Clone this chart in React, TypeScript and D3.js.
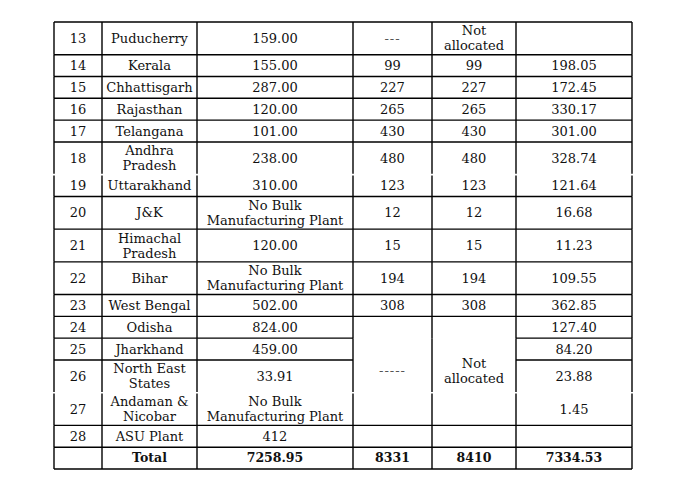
import React from "react";
import * as d3 from "d3";

// table contents, one array per column
const serials = ["13", "14", "15", "16", "17", "18", "19", "20", "21", "22", "23", "24", "25", "26", "27", "28", ""];
const states = [
  "Puducherry", "Kerala", "Chhattisgarh", "Rajasthan", "Telangana", "Andhra\nPradesh", "Uttarakhand",
  "J&K", "Himachal\nPradesh", "Bihar", "West Bengal", "Odisha", "Jharkhand", "North East\nStates",
  "Andaman &\nNicobar", "ASU Plant", "Total",
];
const capacity = [
  "159.00", "155.00", "287.00", "120.00", "101.00", "238.00", "310.00", "No Bulk\nManufacturing Plant",
  "120.00", "No Bulk\nManufacturing Plant", "502.00", "824.00", "459.00", "33.91",
  "No Bulk\nManufacturing Plant", "412", "7258.95",
];
const allocA = ["---", "99", "227", "265", "430", "480", "123", "12", "15", "194", "308", "-----", "", "", "", "", "8331"];
const allocB = ["Not\nallocated", "99", "227", "265", "430", "480", "123", "12", "15", "194", "308", "Not\nallocated", "", "", "", "", "8410"];
const supplied = [
  "", "198.05", "172.45", "330.17", "301.00", "328.74", "121.64", "16.68", "11.23", "109.55", "362.85",
  "127.40", "84.20", "23.88", "1.45", "", "7334.53",
];

const columns = [serials, states, capacity, allocA, allocB, supplied];
// cells spanning rows 24..27 in the two allocation columns
const merges = [
  { col: 3, from: 11, to: 14 },
  { col: 4, from: 11, to: 14 },
];
// rows whose bottom border is missing in the original
const openBelow = [5, 13];
const totalRow = serials.length - 1;

const colEdges = [54, 102, 197, 353, 432, 516, 632];
const top = 22;
const bottom = 469;
const lineH = 15;

export default function App() {
  const nRows = serials.length;
  const isMerged = (c: number, r: number) => merges.find((m) => m.col === c && r >= m.from && r <= m.to);

  const lines = d3.range(nRows).map((r) =>
    d3.max([...columns.map((col, c) => (isMerged(c, r) ? 1 : col[r].split("\n").length)), 1]) as number
  );
  const units = lines.map((l) => (l > 1 ? 3 : 2));
  const cum = [0, ...d3.cumsum(units)];
  const y = d3.scaleLinear().domain([0, cum[cum.length - 1]]).range([top, bottom]);
  const rowTop = (r: number) => y(cum[r]);
  const rowBot = (r: number) => y(cum[r + 1]);

  const hLines: JSX.Element[] = [];
  hLines.push(<line key="top" x1={colEdges[0]} x2={colEdges[6]} y1={top} y2={top} />);
  for (let r = 0; r < nRows; r++) {
    if (openBelow.includes(r)) continue;
    const yy = rowBot(r);
    for (let c = 0; c < 6; c++) {
      const m = isMerged(c, r);
      if (m && r < m.to) continue;
      hLines.push(<line key={`h${r}-${c}`} x1={colEdges[c]} x2={colEdges[c + 1]} y1={yy} y2={yy} />);
    }
  }

  const vLines: JSX.Element[] = [];
  colEdges.forEach((x, i) => {
    for (let r = 0; r < nRows; r++) {
      const gap = openBelow.includes(r) ? 0.8 : 0;
      const gapTop = r > 0 && openBelow.includes(r - 1) ? 0.8 : 0;
      vLines.push(
        <line key={`v${i}-${r}`} x1={x} x2={x} y1={rowTop(r) + gapTop} y2={rowBot(r) - gap} />
      );
    }
  });

  const cells: JSX.Element[] = [];
  columns.forEach((col, c) => {
    const cx = (colEdges[c] + colEdges[c + 1]) / 2;
    col.forEach((txt, r) => {
      if (!txt) return;
      const m = isMerged(c, r);
      const y0 = rowTop(m ? m.from : r);
      const y1 = rowBot(m ? m.to : r);
      const parts = txt.split("\n");
      const mid = (y0 + y1) / 2;
      const bold = r === totalRow;
      const dash = /^-+$/.test(txt);
      parts.forEach((p, k) => {
        cells.push(
          <text
            key={`t${c}-${r}-${k}`}
            x={cx}
            y={mid + (k - (parts.length - 1) / 2) * lineH}
            dy="0.35em"
            textAnchor="middle"
            fontWeight={bold ? "bold" : "normal"}
            fontSize={bold ? 12.5 : 13}
            fill={dash ? "#555" : undefined}
            letterSpacing={dash ? 1 : undefined}
          >
            {p}
          </text>
        );
      });
    });
  });

  return (
    <svg
      width={696}
      height={484}
      style={{ position: "absolute", left: 0, top: 0, background: "#fff" }}
      fontFamily="'DejaVu Serif', serif"
    >
      <rect width={696} height={484} fill="#fff" />
      <g stroke="#000" strokeWidth={1.4}>
        {hLines}
        {vLines}
      </g>
      <g fill="#111">{cells}</g>
    </svg>
  );
}
